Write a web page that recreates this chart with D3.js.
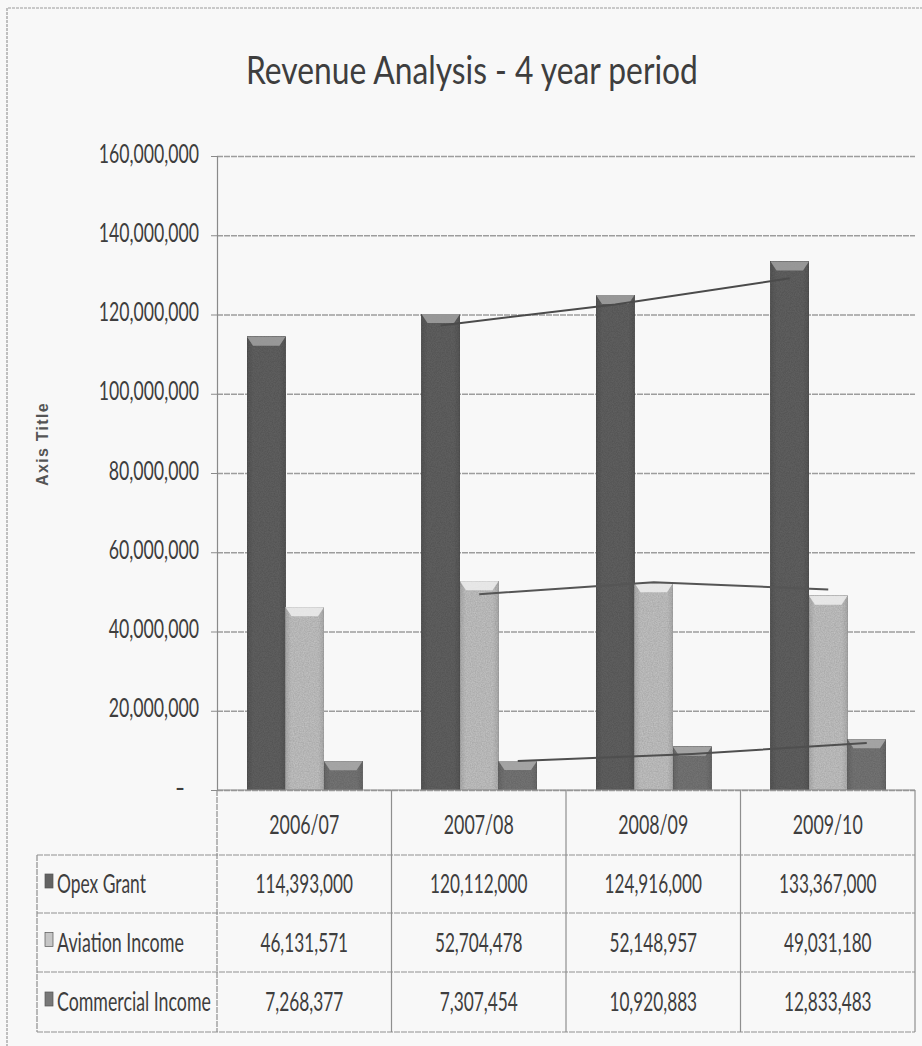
<!DOCTYPE html>
<html>
<head>
<meta charset="utf-8">
<script src="https://cdn.jsdelivr.net/npm/d3@7"></script>
<style>
  html, body { margin: 0; padding: 0; background: #f8f8f8; }
  svg { display: block; }
  .cond { font-family: Lato, "Open Sans", "Liberation Sans", sans-serif; fill: #3e3e3e; }
</style>
</head>
<body>
<svg id="chart" width="922" height="1046"></svg>
<script>
// Fiscal years, series names and revenue figures
const categories = ["2006/07", "2007/08", "2008/09", "2009/10"];
const seriesNames = ["Opex Grant", "Aviation Income", "Commercial Income"];
const opexGrant = [114393000, 120112000, 124916000, 133367000];
const aviationIncome = [46131571, 52704478, 52148957, 49031180];
const commercialIncome = [7268377, 7307454, 10920883, 12833483];
const yTicks = [0, 20000000, 40000000, 60000000, 80000000, 100000000, 120000000, 140000000, 160000000];

const seriesValues = [opexGrant, aviationIncome, commercialIncome];
const seriesFill = ["#636363", "#c6c6c6", "#787878"];
const seriesCap = ["#a2a2a2", "#efefef", "#adadad"];

const svg = d3.select("#chart");
const W = 922, H = 1046;
const plot = { left: 217, right: 915, top: 156, bottom: 790 };

// width of a compressed number string: tabular digits plus narrow commas/slashes
const numWidth = (s, digit, punct) => s.split("").reduce((w, ch) => w + (/\d/.test(ch) ? digit : punct), 0);

// Places a text at (x, y) and squeezes it horizontally to the given width,
// keeping the anchor point fixed, so the condensed face is imitated.
function condensed(parent, str, x, y, size, width, anchor) {
  const t = parent.append("text").attr("class", "cond").attr("font-size", size)
    .attr("text-anchor", anchor || "start").text(str);
  const natural = t.node().getComputedTextLength();
  const k = width ? width / natural : 1;
  t.attr("transform", `translate(${x},${y}) scale(${k},1)`);
  return t;
}

// grain for the bar fills
const defs = svg.append("defs");
const grain = defs.append("filter").attr("id", "grain").attr("x", 0).attr("y", 0).attr("width", 1).attr("height", 1);
grain.append("feTurbulence").attr("type", "fractalNoise").attr("baseFrequency", 0.8).attr("numOctaves", 2).attr("seed", 3).attr("result", "noise");
grain.append("feColorMatrix").attr("in", "noise").attr("type", "matrix")
  .attr("values", "0 0 0 0 0  0 0 0 0 0  0 0 0 0 0  0 0 0 0.35 0").attr("result", "dots");
grain.append("feComposite").attr("in", "dots").attr("in2", "SourceGraphic").attr("operator", "in").attr("result", "dotsIn");
grain.append("feMerge").selectAll("feMergeNode").data(["SourceGraphic", "dotsIn"]).join("feMergeNode").attr("in", d => d);

// horizontal shading gives each column a slightly rounded look
seriesFill.forEach((c, i) => {
  const g = defs.append("linearGradient").attr("id", "side" + i).attr("x1", 0).attr("x2", 1).attr("y1", 0).attr("y2", 0);
  const base = d3.color(c);
  g.append("stop").attr("offset", 0).attr("stop-color", base.darker(0.3));
  g.append("stop").attr("offset", 0.15).attr("stop-color", base);
  g.append("stop").attr("offset", 0.85).attr("stop-color", base);
  g.append("stop").attr("offset", 1).attr("stop-color", base.darker(0.3));
});

// outer chart frame
svg.append("line").attr("x1", 8).attr("x2", W).attr("y1", 8).attr("y2", 8)
  .attr("stroke", "#9a9a9a").attr("stroke-width", 1.2).attr("stroke-dasharray", "3,1");
svg.append("line").attr("x1", 7).attr("x2", 7).attr("y1", 8).attr("y2", H)
  .attr("stroke", "#9a9a9a").attr("stroke-width", 1.2).attr("stroke-dasharray", "3,1");

// title
condensed(svg, "Revenue Analysis - 4 year period", 246, 84, 39, 452).attr("fill", "#474747");

// scales
const x0 = d3.scaleBand().domain(categories).range([plot.left, plot.right]).paddingInner(0).paddingOuter(0);
const xs = d3.scaleBand().domain(seriesNames).range([30, x0.bandwidth() - 29]).padding(0);
const y = d3.scaleLinear().domain([0, 160000000]).range([plot.bottom, plot.top]);

// gridlines
const grid = svg.append("g").attr("transform", `translate(${plot.left},0)`)
  .call(d3.axisLeft(y).tickValues(yTicks).tickSize(-(plot.right - plot.left)).tickFormat(""));
grid.select(".domain").remove();
grid.selectAll("line").attr("stroke", "#9d9d9d").attr("stroke-width", 1.3).attr("stroke-dasharray", "6,1");

// value axis: line and tick marks from d3, labels squeezed afterwards
const fmt = d3.format(",");
const yAxis = svg.append("g").attr("transform", `translate(${plot.left},0)`)
  .call(d3.axisLeft(y).tickValues(yTicks).tickSize(6).tickFormat(""));
yAxis.select(".domain").attr("stroke", "#8a8a8a").attr("stroke-width", 1.2);
yAxis.selectAll(".tick line").attr("stroke", "#8a8a8a");
yAxis.selectAll(".tick").each(function (v) {
  const tick = d3.select(this);
  if (v === 0) {
    condensed(tick, "-", -32, 6, 27, null, "end").attr("fill", "#444");
  } else {
    const s = fmt(v);
    condensed(tick, s, -18, 6, 27, numWidth(s, 9.8, 6), "end").attr("fill", "#444");
  }
});

// axis title
svg.append("text").attr("transform", "translate(48,444) rotate(-90)")
  .attr("text-anchor", "middle").attr("font-family", "Liberation Sans, Arial, sans-serif")
  .attr("font-weight", "bold").attr("font-size", 16).attr("letter-spacing", 1.3)
  .attr("fill", "#555").text("Axis Title");

// columns
const groups = svg.append("g").selectAll("g").data(categories).join("g")
  .attr("transform", d => `translate(${x0(d)},0)`);
const bars = groups.selectAll("g.bar").data((d, ci) => seriesNames.map((s, si) => ({ s, si, v: seriesValues[si][ci] })))
  .join("g").attr("class", "bar");
bars.append("rect")
  .attr("x", d => xs(d.s)).attr("width", xs.bandwidth())
  .attr("y", d => y(d.v)).attr("height", d => y(0) - y(d.v))
  .attr("fill", d => `url(#side${d.si})`).attr("stroke", d => d3.color(seriesFill[d.si]).darker(0.6))
  .attr("stroke-width", 0.8).attr("filter", "url(#grain)");
// bevelled top of each column
bars.append("path")
  .attr("d", d => {
    const xl = xs(d.s), w = xs.bandwidth(), t = y(d.v), b = 9;
    return `M${xl},${t}L${xl + w},${t}L${xl + w - 6},${t + b}L${xl + 6},${t + b}Z`;
  })
  .attr("fill", d => seriesCap[d.si]).attr("opacity", 0.85);

// two-period moving average trendlines
const movingAvg = vals => vals.slice(1).map((v, i) => ({ i: i + 1, v: (v + vals[i]) / 2 }));
const trendColor = ["#4b4b4b", "#555555", "#4f4f4f"];
seriesNames.forEach((s, si) => {
  const pts = movingAvg(seriesValues[si]);
  const line = d3.line()
    .x(p => x0(categories[p.i]) + xs(s) + xs.bandwidth() / 2)
    .y(p => y(p.v));
  svg.append("path").datum(pts).attr("d", line).attr("fill", "none")
    .attr("stroke", trendColor[si]).attr("stroke-width", 2);
});

// data table underneath the category axis
const rowH = [790, 855, 913, 972, 1032];
const tableLeft = 37;
const tbl = svg.append("g").attr("stroke", "#8f8f8f").attr("stroke-width", 1.2);
// category axis line
tbl.append("line").attr("x1", plot.left).attr("x2", plot.right).attr("y1", plot.bottom).attr("y2", plot.bottom);
// horizontal rules
rowH.slice(1).forEach(yy => {
  tbl.append("line").attr("x1", tableLeft).attr("x2", plot.right).attr("y1", yy).attr("y2", yy)
    .attr("stroke-dasharray", "6,1");
});
// vertical rules
const colEdges = categories.map(c => x0(c)).concat([plot.right]);
colEdges.forEach((xx, k) => {
  tbl.append("line").attr("x1", xx).attr("x2", xx).attr("y1", rowH[0]).attr("y2", rowH[4])
    .attr("stroke-dasharray", k === 0 ? "6,1" : null);
});
tbl.append("line").attr("x1", tableLeft).attr("x2", tableLeft).attr("y1", rowH[1]).attr("y2", rowH[4])
  .attr("stroke-dasharray", "6,1");

// year headers
const head = svg.append("g");
categories.forEach(c => condensed(head, c, x0(c) + x0.bandwidth() / 2, 834, 27, 70, "middle"));

// series rows: legend key, name and values
const labelWidths = [89, 127, 154];
const body = svg.append("g");
seriesNames.forEach((s, si) => {
  const cy = (rowH[si + 1] + rowH[si + 2]) / 2;
  body.append("rect").attr("x", 45).attr("y", cy - 10).attr("width", 8).attr("height", 14)
    .attr("fill", seriesFill[si]).attr("stroke", "#555").attr("stroke-width", 0.7);
  condensed(body, s, 57, cy + 9, 26, labelWidths[si], "start");
  seriesValues[si].forEach((v, ci) => {
    const str = fmt(v);
    condensed(body, str, x0(categories[ci]) + x0.bandwidth() / 2, cy + 9, 27, numWidth(str, 9.6, 5.5), "middle");
  });
});
</script>
</body>
</html>
